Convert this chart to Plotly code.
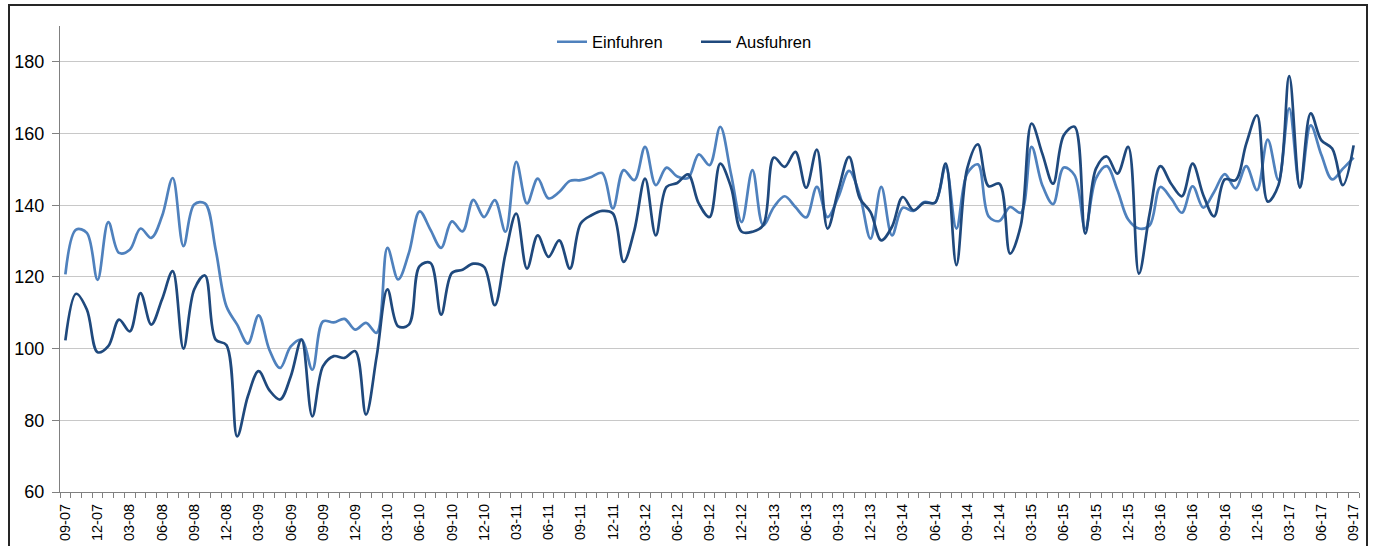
import plotly.graph_objects as go

# Monthly index values, 09-07 .. 09-17
einfuhren = [120.7, 133.2, 132.3, 119.2, 135.3, 126.7, 127.6, 133.5, 130.9, 136.9,
             147.6, 128.6, 140.2, 140.5, 127.6, 111.8, 106.7, 101.4, 109.3, 99.7,
             94.6, 100.6, 102.5, 94.1, 107.6, 107.3, 108.3, 105.3, 107.2, 104.4,
             128.1, 119.3, 126.7, 138.3, 133.2, 128.1, 135.5, 132.7, 141.5, 136.7,
             141.4, 132.6, 152.1, 140.5, 147.4, 141.9, 143.7, 146.8, 147.0, 147.9,
             149.0, 139.1, 149.8, 147.0, 156.3, 145.6, 150.5, 148.0, 147.6, 154.2,
             151.2, 161.9, 148.8, 135.3, 149.8, 134.4, 139.5, 142.5, 139.5, 136.6,
             145.1, 136.7, 142.3, 149.6, 142.8, 130.7, 145.1, 131.6, 139.3, 138.4,
             140.9, 140.7, 150.7, 133.5, 148.8, 151.4, 136.9, 135.6, 139.5, 137.9,
             156.3, 145.6, 140.3, 150.5, 148.4, 133.5, 147.5, 150.9, 144.2, 136.0,
             133.5, 134.4, 145.1, 141.9, 137.9, 145.3, 139.3, 143.7, 148.7, 144.7,
             150.9, 144.2, 158.3, 147.0, 167.0, 145.1, 162.3, 154.0, 147.2, 150.2,
             153.3]

ausfuhren = [102.3, 115.3, 110.9, 99.0, 100.7, 108.1, 104.8, 115.5, 106.7, 113.7,
             121.6, 100.0, 116.5, 120.4, 102.5, 101.0, 75.5, 86.7, 93.7, 88.4,
             85.8, 92.3, 102.5, 81.1, 95.1, 97.9, 97.4, 99.3, 81.6, 97.9,
             116.5, 106.2, 106.7, 123.0, 123.9, 109.5, 121.1, 122.0, 123.7, 122.8,
             112.1, 126.5, 137.7, 122.3, 131.6, 125.6, 130.2, 122.3, 134.9, 137.2,
             138.4, 137.7, 124.2, 133.0, 147.4, 131.6, 145.1, 146.2, 148.6, 140.5,
             136.7, 151.6, 145.1, 132.6, 132.6, 134.4, 153.3, 150.7, 154.9, 144.9,
             155.5, 133.5, 144.2, 153.5, 141.9, 138.1, 130.2, 134.0, 142.3, 138.6,
             140.7, 140.7, 151.6, 123.3, 150.2, 157.0, 145.3, 146.0, 126.5, 134.4,
             162.8, 154.4, 146.0, 159.5, 161.9, 132.1, 150.2, 153.6, 148.8, 156.3,
             120.9, 137.7, 150.9, 146.0, 142.5, 151.6, 142.8, 136.9, 147.2, 147.0,
             157.2, 165.1, 141.0, 145.6, 176.0, 144.9, 165.6, 158.1, 155.8, 145.6,
             156.7]

tick_labels = ["09-07", "12-07", "03-08", "06-08", "09-08", "12-08", "03-09", "06-09",
               "09-09", "12-09", "03-10", "06-10", "09-10", "12-10", "03-11", "06-11",
               "09-11", "12-11", "03-12", "06-12", "09-12", "12-12", "03-13", "06-13",
               "09-13", "12-13", "03-14", "06-14", "09-14", "12-14", "03-15", "06-15",
               "09-15", "12-15", "03-16", "06-16", "09-16", "12-16", "03-17", "06-17",
               "09-17"]

months = list(range(len(einfuhren)))
tick_positions = months[::3]

FONT = "Liberation Sans, Arial, sans-serif"

fig = go.Figure()
fig.add_trace(go.Scatter(x=months, y=einfuhren, name="Einfuhren", mode="lines",
                         line=dict(color="#4F81BD", width=2.7, shape="spline", smoothing=1)))
fig.add_trace(go.Scatter(x=months, y=ausfuhren, name="Ausfuhren", mode="lines",
                         line=dict(color="#1F497D", width=2.7, shape="spline", smoothing=1)))

W, H = 1375, 546
L, R, T, B = 60, 16, 26, 54
pw, ph = W - L - R, H - T - B

def px_to_paper_x(px):
    return (px - L) / pw

def px_to_paper_y(py):
    return (H - B - py) / ph

fig.update_layout(
    width=W, height=H,
    margin=dict(l=L, r=R, t=T, b=B, pad=0, autoexpand=False),
    paper_bgcolor="white", plot_bgcolor="white",
    font=dict(family=FONT, color="black"),
    showlegend=True,
    legend=dict(orientation="h", x=px_to_paper_x(552), xanchor="left",
                y=px_to_paper_y(42), yanchor="middle",
                font=dict(size=16.5, family=FONT), bgcolor="rgba(0,0,0,0)",
                itemwidth=30, entrywidth=99, tracegroupgap=0),
    xaxis=dict(range=[-0.5, len(months) - 0.5], showgrid=False, zeroline=False,
               automargin=False,
               tickmode="array", tickvals=tick_positions, ticktext=tick_labels,
               tickangle=-90, tickfont=dict(size=14.5, family=FONT, color="black"),
               ticks="outside", ticklen=5, tickcolor="rgba(0,0,0,0)",
               showline=True, linecolor="#808080", linewidth=1.3,
               minor=dict(ticks="outside", tick0=-0.5, dtick=1, ticklen=5,
                          tickcolor="#808080", tickwidth=1, showgrid=False)),
    yaxis=dict(range=[60, 190], tickmode="array", tickvals=[60, 80, 100, 120, 140, 160, 180],
               automargin=False,
               showgrid=True, gridcolor="#C8C8C8", gridwidth=1.3, zeroline=False,
               showline=True, linecolor="#808080", linewidth=1.3,
               ticks="outside", ticklen=7, tickcolor="#808080",
               ticklabelstandoff=4,
               tickfont=dict(size=18, family=FONT, color="black")),
)

# outer chart frame (partially cropped at the bottom)
fig.add_shape(type="rect", xref="paper", yref="paper",
              x0=px_to_paper_x(9), x1=px_to_paper_x(1367),
              y0=px_to_paper_y(560), y1=px_to_paper_y(5),
              line=dict(color="#262626", width=2), fillcolor="rgba(0,0,0,0)", layer="below")

fig.write_html("out.html", config={"displayModeBar": False},
               post_script="document.body.style.margin='0px';document.body.style.overflow='hidden';")
